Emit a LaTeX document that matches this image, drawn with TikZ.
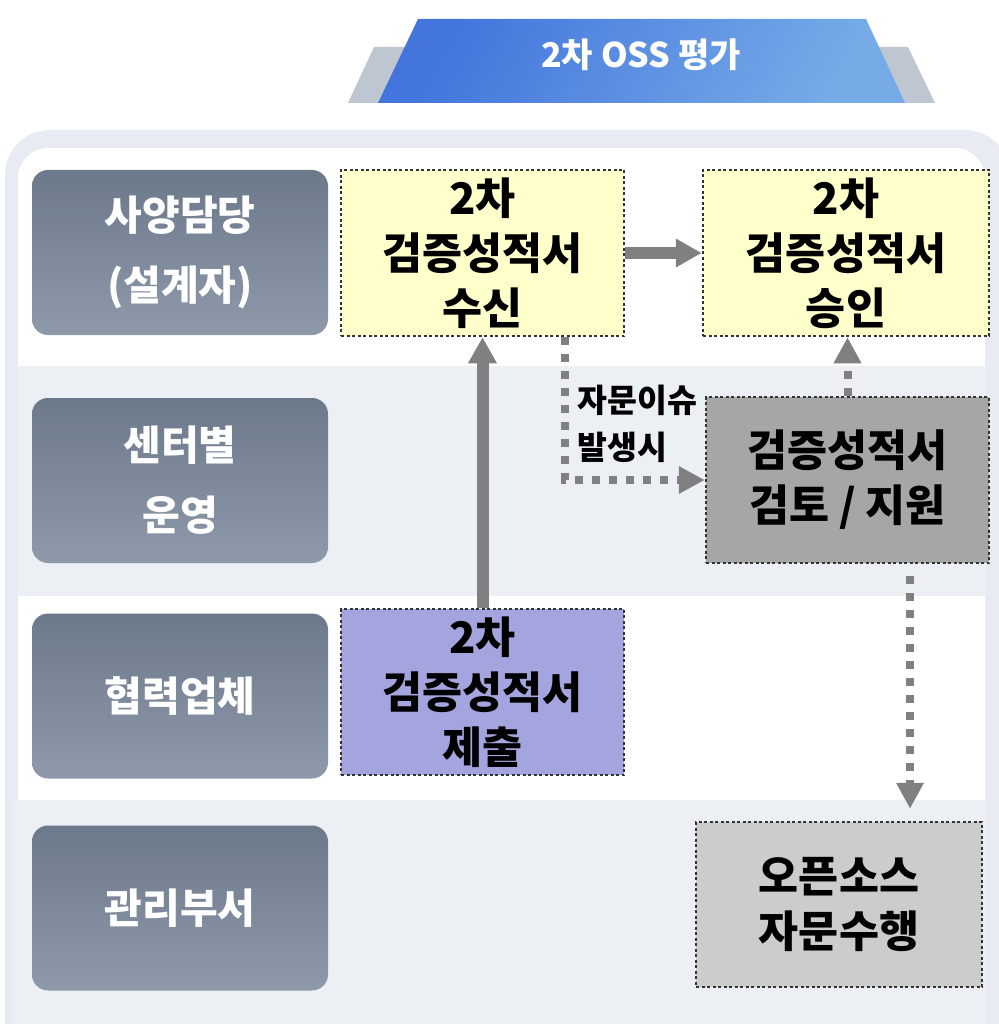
\documentclass[tikz,border=0pt]{standalone}
\usepackage{fontspec}
\setmainfont{Noto Sans CJK KR}
\usetikzlibrary{arrows.meta}
\definecolor{headblue}{HTML}{4375DC}
\definecolor{headlight}{HTML}{76ABE7}
\definecolor{headgray}{HTML}{BEC6D2}
\definecolor{framegray}{HTML}{E8EBF3}
\definecolor{bandgray}{HTML}{ECEFF4}
\definecolor{lanetop}{HTML}{6C798B}
\definecolor{lanebot}{HTML}{8E9AAA}
\definecolor{recvyellow}{HTML}{FFFFCC}
\definecolor{reviewgray}{HTML}{A6A6A6}
\definecolor{submitpurple}{HTML}{A4A4DE}
\definecolor{advicegray}{HTML}{CCCCCC}
\definecolor{arrowgray}{HTML}{808080}

\begin{document}
\begin{tikzpicture}[x=1pt,y=-1pt,
  lane/.style={rounded corners=16pt, top color=lanetop, bottom color=lanebot,
    minimum width=296pt, minimum height=165pt, text=white, align=center,
    font=\fontsize{41}{70}\selectfont\bfseries},
  task/.style={draw=black!80, dash pattern=on 3pt off 2.5pt, line width=2.5pt,
    minimum width=283pt, minimum height=166pt, align=center,
    font=\fontsize{43.5}{55}\selectfont\bfseries},
  flow/.style={arrowgray, line width=12pt, -{Triangle[length=26pt,width=27pt]}},
  flowdot/.style={arrowgray, line width=8pt, dash pattern=on 8pt off 9pt,
    -{Triangle[length=26pt,width=26pt]}}]
\useasboundingbox (0,0) rectangle (998,1024);
%frame and row bands
\fill[framegray, rounded corners=45pt] (5,130) rectangle (1010,1080);
\fill[white, rounded corners=30pt] (18,148) rectangle (985,1080);
\fill[bandgray] (18,366) rectangle (985,596);
\fill[bandgray] (12,800) rectangle (985,1080);
%header
\fill[headgray] (374,47) -- (908,47) -- (935,103) -- (348,103) -- cycle;
\shade[top color=headblue, bottom color=headlight, shading angle=60] (418,19) -- (866,19) -- (905,103) -- (378,103) -- cycle;
\node[text=white, font=\fontsize{34}{34}\selectfont\bfseries] (title) at (641,55) {2차 OSS 평가};
%lanes
\node[lane] (spec) at (180,252.5) {사양담당\\(설계자)};
\node[lane] (center) at (180,480.5) {센터별\\운영};
\node[lane] (vendor) at (180,696) {협력업체};
\node[lane] (admin) at (180,908) {관리부서};
%tasks
\node[task, fill=recvyellow] (recv) at (482.5,253) {2차\\검증성적서\\수신};
\node[task, fill=recvyellow, minimum width=286pt] (approve) at (846,253) {2차\\검증성적서\\승인};
\node[task, fill=reviewgray] (review) at (847.5,480) {검증성적서\\검토 / 지원};
\node[task, fill=submitpurple] (submit) at (482.5,692) {2차\\검증성적서\\제출};
\node[task, fill=advicegray, minimum width=286pt, minimum height=165pt] (advice) at (839,904.5) {오픈소스\\자문수행};
\node[anchor=west, align=left, font=\fontsize{32.5}{47}\selectfont\bfseries] (issue) at (574,424) {자문이슈\\발생시};
%arrows
\coordinate (down) at ([xshift=62.5pt, yshift=-12pt]review.south);
\draw[flow] (recv) -- (approve);
\draw[flow] (submit) -- (recv);
\draw[flowdot] ([xshift=82pt]recv.south) |- (review.west);
\draw[flowdot] (review.north) -- (review.north |- approve.south);
\draw[flowdot, shorten >=12pt] (down) -- (down |- advice.north);
\end{tikzpicture}
\end{document}
